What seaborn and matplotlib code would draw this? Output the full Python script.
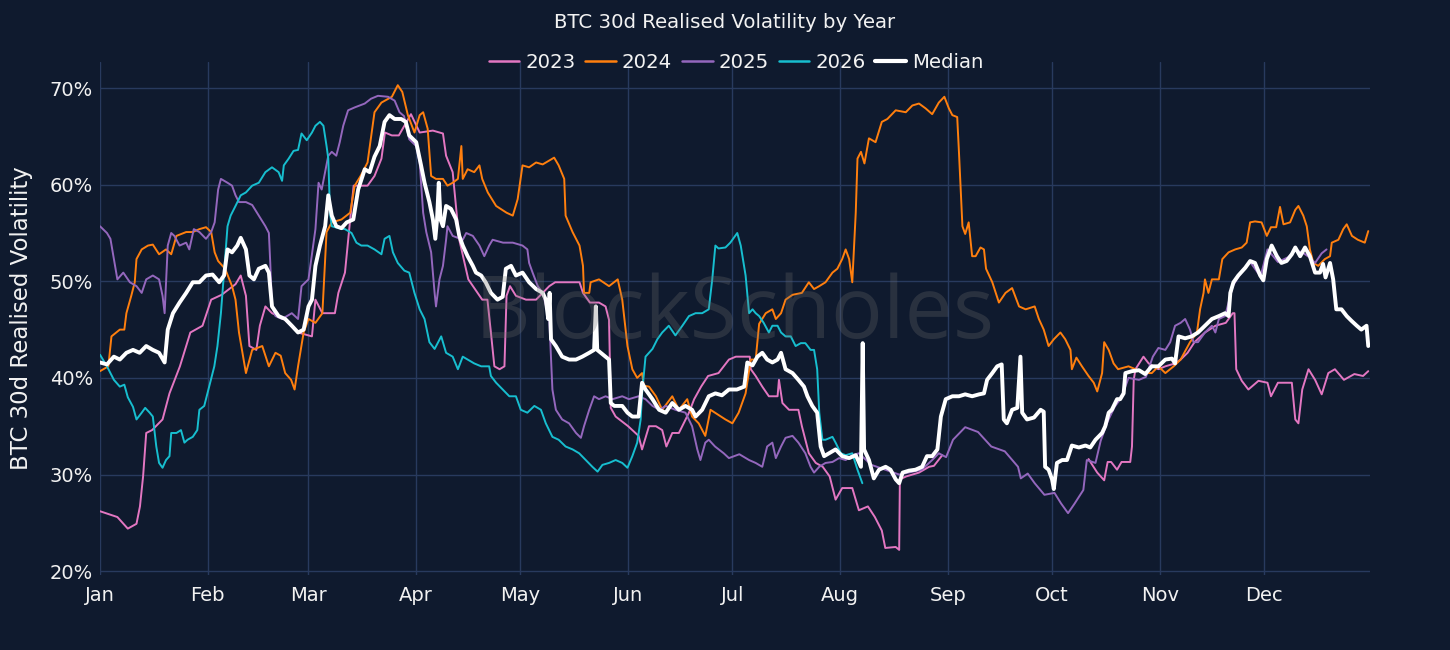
import numpy as np
import pandas as pd
import matplotlib
matplotlib.use("Agg")
import matplotlib.pyplot as plt
from matplotlib.lines import Line2D
import seaborn as sns

# ---------------- data (day of year, 0 = Jan 1, leap-year calendar) ----------------
month_labels = ["Jan", "Feb", "Mar", "Apr", "May", "Jun", "Jul", "Aug", "Sep", "Oct", "Nov", "Dec"]
month_starts = [0, 31, 60, 91, 121, 152, 182, 213, 244, 274, 305, 335]
y_ticks = [20, 30, 40, 50, 60, 70]

day_2023_a = [0, 5, 8, 10.5, 11.5, 12.4, 13.3, 15, 18, 20, 23, 26, 29.5, 32, 35, 39, 40.5, 42, 43, 45, 46, 47.6,
              49.5, 53, 57, 61, 62, 64, 67.6, 68.6, 70.5, 72, 73, 77, 79, 81, 82, 84, 86, 87.6, 89.5, 92, 95.8,
              98.7, 99.6, 101.5, 103, 103.4, 106, 110, 111.5, 112.5, 113.5, 115, 116.4, 117, 118, 119.7, 122.6,
              125.5, 127.4, 129.3, 131, 135, 138, 139, 141, 143.6, 145.5, 146.5, 147, 148.4, 152, 155, 156, 158,
              160, 161.8, 163, 164.7, 166.6, 169.5, 171, 173, 175, 178, 181, 183, 187, 187.3, 188.7, 190.6,
              192.5, 195, 195.4, 196.4, 198.3, 201, 202, 204, 206, 208, 210, 211.7, 213.6, 216.5, 218.4, 221,
              223, 225, 226, 229, 230, 230.2, 232, 235.7, 238.6, 240, 242.4]
vol_2023_a = [26.2, 25.6, 24.4, 24.9, 26.7, 29.8, 34.3, 34.6, 35.7, 38.4, 41.2, 44.7, 45.4, 48.1, 48.6, 49.7, 50.6,
              48.5, 43.3, 42.9, 45.4, 47.4, 46.7, 46.1, 44.7, 44.3, 48.1, 46.7, 46.7, 48.8, 50.9, 56.4, 59.9, 59.9,
              60.9, 62.7, 65.4, 65.1, 65.1, 66.1, 67.3, 65.4, 65.6, 65.3, 63.0, 61.3, 55.7, 54.3, 50.2, 48.1, 48.1,
              44.7, 41.2, 40.9, 41.2, 48.5, 49.5, 48.5, 48.1, 48.1, 48.8, 49.5, 49.9, 49.9, 49.9, 48.8, 47.8, 47.8,
              47.4, 46.0, 36.9, 36.0, 35.0, 34.0, 32.6, 35.0, 35.0, 34.6, 32.9, 34.3, 34.3, 36.4, 37.8, 39.1, 40.2,
              40.5, 41.9, 42.2, 42.2, 40.9, 40.2, 39.1, 38.1, 38.1, 39.8, 37.4, 36.7, 36.7, 35.0, 32.2, 31.2, 30.8,
              29.8, 27.4, 28.6, 28.6, 26.3, 26.7, 25.6, 24.2, 22.4, 22.5, 22.2, 29.5, 29.8, 30.2, 30.8, 30.9, 32.0]
day_2023_b = [284.5, 287, 289, 290, 291, 292.7, 294, 296.5, 297, 297.5, 298, 300.3, 301.8, 304.6, 306.6, 309.4,
              311, 313, 315, 318, 321, 324, 326, 326.5, 327, 328.6, 330.5, 333.4, 336, 337, 339, 343, 344, 344.9,
              346, 347.8, 349.7, 351.6, 353.5, 355.4, 358, 361, 363.5, 365]
vol_2023_b = [31.6, 30.2, 29.4, 31.3, 31.3, 30.5, 31.3, 31.3, 32.9, 39.8, 40.9, 42.2, 41.5, 40.9, 41.2, 41.5, 41.9,
              42.6, 43.7, 44.7, 45.4, 45.7, 46.7, 46.7, 40.9, 39.7, 38.8, 39.7, 39.5, 38.1, 39.5, 39.5, 35.7, 35.3,
              38.8, 40.9, 39.8, 38.3, 40.5, 40.9, 39.8, 40.4, 40.2, 40.7]

day_2024 = [0, 2.4, 3.3, 5.7, 7, 7.6, 9, 10, 10.5, 12, 13.8, 15.2, 17, 19, 20.5, 22, 24.8, 26.7, 28.6, 30.5, 32, 33,
            34, 36, 38, 39, 40, 41, 42, 43.8, 46.7, 48.6, 50.5, 52, 53.3, 55, 56, 57, 58.6, 60, 62, 64, 65.2, 66.7,
            69.5, 72, 73.3, 75, 77, 79, 81, 84, 85.7, 87, 88.6, 90.5, 92, 93, 94.3, 95.3, 96.7, 98.7, 100, 101.5,
            103, 104, 104.4, 105.8, 107.7, 109.2, 110, 111.6, 114, 117, 118.8, 120.2, 121.6, 123.5, 125.5, 127.4,
            129.3, 130.7, 132, 133.6, 134, 136, 138, 139, 139.3, 140.8, 141.2, 143.6, 146.5, 149, 150.3, 151.8,
            153.2, 154.6, 156, 156.5, 158, 160, 161.8, 164.7, 166.6, 169, 170.4, 172.3, 174.2, 175.7, 177, 180,
            182, 183.8, 185.8, 187.3, 188.7, 189.7, 191.6, 193.5, 194.5, 196, 197.3, 199.3, 202, 204, 205.5, 207,
            208.8, 210.8, 212.2, 213.6, 214.6, 215.6, 216.5, 217.5, 218, 219, 220, 221.3, 223.2, 225, 226.6, 229,
            231.9, 233.8, 235.7, 237.6, 239.5, 241.4, 243, 244.3, 245.3, 246.7, 247.2, 248.2, 249, 250, 251, 252,
            253.4, 254.4, 255, 256.8, 258.7, 260.6, 262.5, 264.5, 266.4, 269, 270.2, 271.6, 273, 274.5, 276.4,
            277.8, 279.3, 279.7, 281, 282.6, 284.5, 286, 287, 288.4, 289, 290.3, 291.7, 293, 296, 298, 301, 302.7,
            304.6, 306.6, 309, 311, 313.7, 315.7, 316.6, 317.6, 318, 319, 320, 322, 323, 324.8, 326.7, 328.6, 330,
            331, 332.4, 334.3, 335.8, 337, 338.5, 339.6, 340.6, 342.5, 344, 344.9, 346.3, 347.3, 348.2, 349.2,
            350.6, 352.5, 354, 354.5, 356.4, 357.8, 358.8, 360.3, 362, 364, 365]
vol_2024 = [40.7, 41.2, 44.3, 45.0, 45.0, 46.7, 48.5, 49.9, 52.3, 53.3, 53.7, 53.8, 52.8, 53.3, 52.8, 54.7, 55.1,
            55.1, 55.4, 55.6, 55.1, 53.0, 52.1, 51.3, 49.5, 48.1, 44.7, 42.6, 40.5, 42.9, 43.3, 41.2, 42.6, 42.3,
            40.5, 39.8, 38.8, 41.2, 44.7, 46.1, 45.7, 46.7, 55.1, 56.1, 56.4, 57.1, 59.9, 60.9, 62.3, 67.5, 68.5,
            69.1, 70.3, 69.6, 67.2, 65.4, 67.2, 67.5, 65.8, 60.9, 60.6, 60.6, 59.9, 60.2, 60.6, 64.0, 60.6, 61.6,
            61.3, 62.0, 60.6, 59.2, 57.8, 57.1, 56.8, 58.5, 62.0, 61.8, 62.3, 62.1, 62.5, 62.8, 62.0, 60.6, 56.8,
            55.1, 53.7, 51.6, 48.8, 48.8, 49.9, 50.2, 49.5, 50.2, 48.1, 43.3, 40.9, 40.0, 40.5, 39.2, 39.1, 38.1,
            36.7, 38.1, 36.7, 37.8, 36.0, 35.3, 34.0, 36.7, 36.4, 35.7, 35.3, 36.4, 38.4, 41.9, 41.9, 45.6, 46.7,
            47.1, 46.1, 46.7, 48.1, 48.6, 48.8, 49.9, 49.2, 49.5, 49.9, 50.9, 51.3, 52.3, 53.3, 52.3, 49.9, 57.1,
            62.7, 63.4, 62.2, 64.8, 64.4, 66.5, 66.8, 67.7, 67.5, 68.2, 68.4, 67.9, 67.3, 68.5, 69.1, 67.9, 67.2,
            67.0, 63.4, 55.7, 54.9, 56.1, 52.6, 52.6, 53.5, 53.3, 51.3, 49.9, 47.8, 48.8, 49.3, 47.4, 47.1, 47.4,
            46.1, 45.0, 43.3, 44.0, 44.7, 44.0, 42.9, 40.9, 42.1, 41.2, 40.2, 39.5, 38.6, 40.5, 43.7, 42.9, 41.5,
            40.9, 41.2, 40.9, 40.5, 40.5, 41.2, 40.5, 41.2, 41.9, 43.7, 44.7, 47.1, 48.8, 50.2, 48.8, 50.2, 50.2,
            52.3, 53.0, 53.3, 53.5, 54.0, 56.1, 56.2, 56.1, 54.7, 55.6, 55.6, 57.7, 55.9, 56.1, 57.4, 57.8, 56.8,
            55.7, 53.3, 51.9, 51.6, 52.3, 52.6, 54.0, 54.3, 55.4, 55.9, 54.7, 54.3, 54.0, 55.2]

day_2025 = [0, 2, 3, 4, 5, 6.7, 8.6, 10.5, 12, 13.3, 15.2, 17, 18, 18.6, 19.5, 20.5, 21.4, 22.9, 24.8, 25.7, 27,
            28.6, 30.5, 32, 33, 34, 34.8, 36.7, 38, 39, 40, 42, 43.8, 45.7, 47.6, 48.6, 49, 49.5, 50.5, 52.4, 55.2,
            57, 58, 60, 62, 62.9, 63.8, 65.7, 66.7, 68, 69, 70, 71.4, 73.3, 76.2, 78, 80, 82.9, 84.8, 86.2, 87.5,
            89, 91, 92, 93, 93.9, 95.3, 96.3, 96.7, 97.7, 98.7, 99.6, 100, 101.5, 104.4, 105.4, 107.3, 109.2,
            110.6, 112, 113, 116, 118.8, 121.6, 123, 123.5, 124.5, 126, 127.4, 129.3, 130.2, 131.2, 133, 135, 137,
            138.4, 139.3, 140.8, 142.2, 143.6, 145.5, 147.5, 150.3, 152.2, 155, 157, 159, 161, 162.8, 165.6,
            168.5, 170.4, 171.9, 172.8, 174.2, 175.2, 177, 179.5, 181, 184, 186.8, 188.7, 190.6, 192, 193.5,
            194.5, 196, 197.3, 199.3, 201, 203, 204.5, 205.5, 207, 208.8, 210.8, 212.7, 214.6, 216.5, 218.4, 222,
            226, 230, 234, 236.5, 239.5, 241.4, 243.5, 245.5, 249, 252.7, 256.5, 260.4, 264.2, 265, 267, 269,
            271.8, 274.7, 276.6, 278.6, 280.5, 283, 284, 286.5, 288, 290, 292, 294, 296, 299, 301, 303, 304.6,
            306.6, 308, 309.4, 311, 312.3, 313.7, 314.7, 316, 318, 320, 321, 322, 323.8, 326, 328.5, 331, 334, 336,
            339, 342, 344, 346, 348, 349.7, 351.6, 353]
vol_2025 = [55.7, 55.0, 54.4, 52.3, 50.2, 50.9, 49.9, 49.5, 48.8, 50.2, 50.6, 50.2, 48.5, 46.7, 53.7, 55.0, 54.7,
            53.7, 54.0, 53.3, 55.4, 55.1, 54.4, 55.1, 56.1, 59.5, 60.6, 60.2, 59.9, 58.9, 58.2, 58.2, 57.9, 56.8,
            55.7, 55.0, 51.9, 47.4, 46.4, 46.1, 46.7, 46.1, 49.5, 50.2, 55.4, 60.2, 59.5, 63.0, 63.4, 63.0, 64.4,
            66.1, 67.7, 68.0, 68.4, 68.9, 69.2, 69.1, 68.7, 67.5, 67.1, 64.7, 64.0, 62.3, 57.1, 55.1, 53.0, 48.8,
            47.4, 50.2, 51.6, 54.3, 55.7, 54.7, 54.3, 55.0, 54.7, 53.7, 52.6, 53.7, 54.3, 54.0, 54.0, 53.7, 53.3,
            51.9, 50.9, 49.5, 48.8, 46.1, 38.8, 36.7, 35.7, 35.3, 34.3, 33.8, 35.0, 36.7, 38.1, 37.8, 38.1, 37.8,
            38.1, 37.8, 38.1, 37.8, 37.1, 36.7, 37.1, 36.7, 36.4, 35.0, 32.6, 31.5, 33.3, 33.6, 32.9, 32.2, 31.7,
            32.1, 31.5, 31.2, 30.8, 32.9, 33.3, 31.7, 32.9, 33.8, 34.0, 33.3, 32.2, 30.8, 30.2, 30.8, 31.2, 31.3,
            31.7, 31.5, 32.0, 32.2, 31.0, 30.5, 30.0, 30.3, 30.5, 31.5, 32.2, 31.8, 33.6, 34.9, 34.4, 32.9, 32.4,
            30.8, 29.6, 30.1, 29.1, 27.9, 28.1, 27.0, 26.0, 27.0, 28.4, 31.5, 31.2, 33.5, 35.5, 37.0, 38.0, 40.0,
            39.8, 40.1, 42.2, 43.1, 42.9, 43.7, 45.4, 45.7, 46.1, 45.0, 43.7, 43.7, 44.7, 45.4, 44.7, 46.1, 46.4,
            49.5, 51.0, 52.0, 50.5, 53.3, 52.0, 52.5, 53.2, 53.0, 52.5, 51.9, 52.9, 53.3]

day_2026 = [0, 2, 4, 5.7, 7, 8, 9.5, 10.5, 12, 13, 14.3, 15.2, 16.2, 17, 18, 19, 20, 20.5, 22, 23.3, 24.3, 25.2,
            26.7, 28, 28.6, 30, 31.4, 32.9, 33.8, 34.8, 35.7, 36.7, 37.6, 39, 40.5, 42, 43.8, 45.7, 47.6, 49.5,
            51.4, 52.4, 52.9, 54.3, 55.7, 57, 58, 59.5, 61, 62, 63.3, 64.3, 65.2, 65.7, 66.2, 66.7, 68.6, 70.5,
            72.4, 73.8, 75.2, 77, 79, 81, 81.9, 83.3, 84.3, 85.7, 87.6, 89, 90.5, 92, 93.4, 94.8, 96.3, 98.2, 99.6,
            101.5, 103, 104.4, 105.8, 107.7, 109.7, 112, 112.5, 114, 115.9, 117.8, 119.7, 121.1, 123, 125, 126.9,
            128.3, 130.2, 132, 134, 136, 137.9, 139.8, 141.7, 143.2, 144.6, 146.5, 148.4, 150.3, 151.8, 153.2,
            154.6, 155.6, 156, 157, 159, 160.4, 161.8, 163.7, 165.6, 167.6, 169.5, 171.4, 173.3, 175.2, 176.2,
            177.1, 178, 180, 181.4, 183.4, 184.4, 185.8, 186.8, 187.8, 188.7, 189.7, 191, 192.5, 193.5, 195, 196,
            197.3, 198.8, 200.2, 201.7, 203, 204.5, 205.5, 206.4, 207, 207.9, 208.8, 210.8, 211.7, 213.2, 214.6,
            216.5, 218, 219.4]
vol_2026 = [42.4, 41.2, 39.8, 39.1, 39.3, 38.0, 37.0, 35.7, 36.4, 36.9, 36.4, 36.0, 32.9, 31.2, 30.7, 31.5, 31.9,
            34.3, 34.3, 34.6, 33.3, 33.6, 33.9, 34.6, 36.7, 37.1, 39.1, 41.2, 43.3, 46.7, 50.9, 55.7, 56.8, 57.8,
            58.9, 59.2, 59.9, 60.2, 61.3, 61.8, 61.3, 60.4, 62.0, 62.7, 63.5, 63.6, 65.3, 64.6, 65.4, 66.1, 66.5,
            66.1, 64.0, 62.7, 57.1, 55.7, 55.5, 55.4, 55.0, 54.0, 53.7, 53.7, 53.3, 52.8, 54.4, 54.7, 53.0, 51.9,
            51.1, 50.9, 48.8, 47.1, 46.1, 43.7, 43.0, 44.3, 42.6, 42.2, 40.9, 42.2, 41.9, 41.5, 41.2, 41.2, 40.2,
            39.5, 38.8, 38.1, 38.1, 36.7, 36.4, 37.1, 36.7, 35.3, 33.9, 33.6, 32.9, 32.6, 32.2, 31.5, 30.8, 30.3,
            31.0, 31.2, 31.5, 31.2, 30.7, 31.9, 33.3, 35.7, 38.4, 42.2, 43.0, 44.0, 44.7, 45.4, 44.4, 45.4, 46.4,
            46.7, 46.7, 47.1, 50.2, 53.7, 53.4, 53.5, 54.0, 55.0, 53.7, 50.6, 46.7, 47.1, 46.7, 46.4, 45.7, 44.7,
            45.4, 45.4, 44.7, 44.3, 44.3, 43.3, 43.6, 43.6, 42.9, 42.9, 40.9, 36.4, 33.6, 33.6, 33.9, 33.3, 32.2,
            32.0, 32.2, 30.5, 29.1]

day_median = [0, 2, 4, 5.7, 7.6, 9.5, 11.4, 13.3, 15.2, 17, 18.6, 19.5, 21, 22.9, 24.8, 26.7, 28.6, 30.5, 32.4,
              34.3, 35.7, 36.7, 38, 39.5, 40.5, 42, 43, 44.3, 45.7, 47.6, 48.6, 49.5, 51.4, 53.3, 55.2, 57, 58.6,
              60, 61, 62, 63.3, 64.8, 65.7, 66.7, 68, 69.5, 71, 72.9, 74.3, 76.2, 77.6, 79, 80.5, 81.9, 83.3, 84.8,
              86.7, 88, 89, 91, 92.4, 93.4, 94.8, 95.8, 96.5, 97, 97.5, 98, 98.7, 99.6, 101, 102.5, 103.4, 104.4,
              105.8, 107.3, 108.2, 109.7, 111, 112.5, 114.4, 115.9, 116.8, 118.3, 119.7, 121.6, 123.5, 125.5,
              127.4, 128.3, 129, 129.4, 129.8, 131.2, 133, 135, 137, 138.8, 140.8, 142.2, 142.7, 143.1, 145.5,
              146.5, 147, 148, 150.3, 151.8, 153.2, 155, 156, 157, 159, 160.9, 162.8, 164.7, 166.6, 168.5, 170.4,
              171.4, 173.3, 175.2, 177.1, 179, 181, 183.3, 185.4, 186.3, 187.8, 189.2, 190.6, 192, 193.5, 195,
              196, 197.3, 199.3, 201, 202.6, 203.6, 205, 206.4, 207.4, 208.4, 209.8, 211.7, 213.6, 215.6, 217.5,
              219, 219.5, 219.9, 221.3, 222.7, 224.2, 226.1, 227.5, 229, 230, 231, 232.8, 234.7, 236.6, 238,
              239.5, 241, 242, 243.4, 245.3, 247.2, 249, 251, 253, 254.4, 255.3, 256.8, 258.2, 259.5, 260.1, 261,
              262.5, 264, 264.9, 265.4, 266.8, 268.8, 270.7, 271.6, 272, 273, 274, 274.5, 275.4, 276.9, 278.3,
              279.7, 281.7, 283.6, 285, 286.5, 288.4, 289.3, 290.3, 291.2, 292.7, 293.6, 294.6, 295.1, 297, 299,
              300.8, 302.7, 304.6, 306.6, 308.5, 309.4, 310.4, 312.3, 314.2, 316, 318, 320, 322, 323.8, 324.8,
              325.3, 326.2, 327.6, 329.6, 331, 332.4, 333.9, 334.8, 335.8, 337.2, 338.7, 340, 341.5, 343, 344,
              345.4, 346.8, 348.2, 349.7, 351.1, 352, 352.7, 354, 354.9, 355.8, 357.3, 358.8, 360.2, 361.7, 363,
              364.5, 365]
vol_median = [41.6, 41.4, 42.2, 41.9, 42.6, 42.9, 42.6, 43.3, 42.9, 42.6, 41.6, 45.0, 46.7, 47.8, 48.8, 49.9, 49.9,
              50.6, 50.7, 49.9, 50.6, 53.3, 53.0, 53.7, 54.5, 53.3, 50.6, 50.2, 51.3, 51.6, 50.9, 47.4, 46.4, 46.1,
              45.4, 44.7, 45.0, 47.4, 48.1, 51.6, 53.7, 55.7, 58.9, 56.8, 55.7, 55.5, 56.1, 56.4, 59.5, 61.6, 61.3,
              62.9, 64.0, 66.5, 67.2, 66.8, 66.8, 66.5, 65.1, 64.4, 62.0, 60.2, 58.2, 56.4, 54.4, 56.4, 60.2, 56.4,
              55.7, 57.8, 57.5, 56.4, 54.7, 53.7, 52.6, 51.6, 50.9, 50.6, 49.9, 48.8, 48.1, 48.4, 51.3, 51.6, 50.6,
              50.9, 49.9, 49.2, 48.8, 48.1, 46.1, 48.8, 44.0, 43.3, 42.2, 41.9, 41.9, 42.2, 42.6, 42.9, 47.4, 42.9,
              42.2, 41.9, 37.4, 37.1, 37.1, 36.4, 36.0, 36.0, 39.5, 38.8, 37.8, 36.7, 36.4, 37.4, 36.7, 37.1, 36.7,
              36.0, 36.7, 38.1, 38.4, 38.2, 38.8, 38.8, 39.1, 41.6, 41.3, 42.2, 42.6, 41.9, 41.6, 41.9, 42.6, 40.9,
              40.5, 39.8, 39.1, 38.1, 37.1, 36.4, 32.9, 31.9, 32.2, 32.6, 31.9, 31.7, 32.0, 30.8, 43.6, 32.6, 31.5,
              29.6, 30.5, 30.8, 30.5, 29.5, 29.1, 30.2, 30.4, 30.5, 30.8, 31.9, 31.9, 32.6, 36.0, 37.8, 38.1, 38.1,
              38.3, 38.1, 38.3, 38.4, 39.8, 40.5, 41.2, 41.4, 35.7, 35.3, 36.7, 36.9, 42.2, 36.4, 35.7, 35.9, 36.7,
              36.5, 30.8, 30.5, 29.5, 28.5, 31.2, 31.5, 31.5, 33.0, 32.8, 33.0, 32.8, 33.6, 34.3, 35.0, 36.4, 36.7,
              37.8, 37.8, 38.4, 40.5, 40.7, 40.8, 40.4, 41.2, 41.2, 41.9, 42.0, 41.5, 44.3, 44.1, 44.3, 44.7, 45.4,
              46.1, 46.4, 46.7, 46.4, 48.8, 49.9, 50.6, 51.4, 52.1, 51.9, 50.6, 50.1, 52.3, 53.7, 52.6, 51.9, 52.1,
              52.8, 53.5, 52.6, 53.5, 52.6, 50.9, 50.9, 51.8, 50.4, 51.9, 50.2, 47.1, 47.1, 46.4, 45.9, 45.4, 45.0,
              45.4, 43.3]

series_names = ["2023", "2024", "2025", "2026", "Median"]
series_colors = {"2023": "#e377c2", "2024": "#ff7f0e", "2025": "#9467bd", "2026": "#17becf", "Median": "#ffffff"}

# ---------------- tidy table ----------------
frames = [
    pd.DataFrame({"day": day_2023_a, "vol": vol_2023_a, "series": "2023", "seg": 0}),
    pd.DataFrame({"day": day_2023_b, "vol": vol_2023_b, "series": "2023", "seg": 1}),
    pd.DataFrame({"day": day_2024, "vol": vol_2024, "series": "2024", "seg": 0}),
    pd.DataFrame({"day": day_2025, "vol": vol_2025, "series": "2025", "seg": 0}),
    pd.DataFrame({"day": day_2026, "vol": vol_2026, "series": "2026", "seg": 0}),
    pd.DataFrame({"day": day_median, "vol": vol_median, "series": "Median", "seg": 0}),
]
df = pd.concat(frames, ignore_index=True)

# ---------------- style ----------------
BG = "#0f1a2e"
GRID = "#283a5e"
TXT = "#f2f2f2"

sns.set_theme(style="dark")
plt.rcParams["font.family"] = ["DejaVu Sans"]

fig = plt.figure(figsize=(14.5, 6.5), dpi=100, facecolor=BG)
ax = fig.add_axes([100 / 1450, 1 - 575 / 650, 1270 / 1450, 513 / 650])
ax.set_facecolor(BG)

for name in ["2023", "2024", "2025", "2026"]:
    sub = df[df["series"] == name]
    sns.lineplot(data=sub, x="day", y="vol", units="seg", estimator=None, sort=False,
                 color=series_colors[name], linewidth=1.4, ax=ax, legend=False, zorder=2)
sub = df[df["series"] == "Median"]
sns.lineplot(data=sub, x="day", y="vol", estimator=None, sort=False,
             color=series_colors["Median"], linewidth=2.8, ax=ax, legend=False, zorder=3)

ax.set_xlim(0, 365.5)
ax.set_ylim(19.6, 72.7)
ax.set_xticks(month_starts)
ax.set_xticklabels(month_labels)
ax.set_yticks(y_ticks)
ax.set_yticklabels([f"{v}%" for v in y_ticks])
ax.grid(True, color=GRID, linewidth=1.0)
ax.set_axisbelow(True)
for s in ax.spines.values():
    s.set_visible(False)
ax.tick_params(axis="both", length=0, colors=TXT, labelsize=14)
ax.tick_params(axis="x", pad=8)
ax.tick_params(axis="y", pad=5)
ax.set_xlabel("")
ax.set_ylabel("BTC 30d Realised Volatility", color=TXT, fontsize=16.5, labelpad=12)

# watermark
ax.text(0.5, 0.505, "BlockScholes", transform=ax.transAxes, ha="center", va="center",
        fontsize=62, color="#6e6e6e", alpha=0.28, zorder=5, family="Open Sans")

fig.text(725 / 1450, 1 - 22 / 650, "BTC 30d Realised Volatility by Year", ha="center", va="center",
         color=TXT, fontsize=14.2)

handles = [Line2D([0], [0], color=series_colors[n], lw=(3.0 if n == "Median" else 1.8)) for n in series_names]
leg = fig.legend(handles, series_names, loc="center", bbox_to_anchor=(736 / 1450, 1 - 62 / 650), ncol=5,
                 frameon=False, fontsize=14.2, handlelength=1.55, handletextpad=0.3, columnspacing=0.5,
                 labelcolor=TXT)

fig.savefig("out.png", dpi=100, facecolor=BG)
